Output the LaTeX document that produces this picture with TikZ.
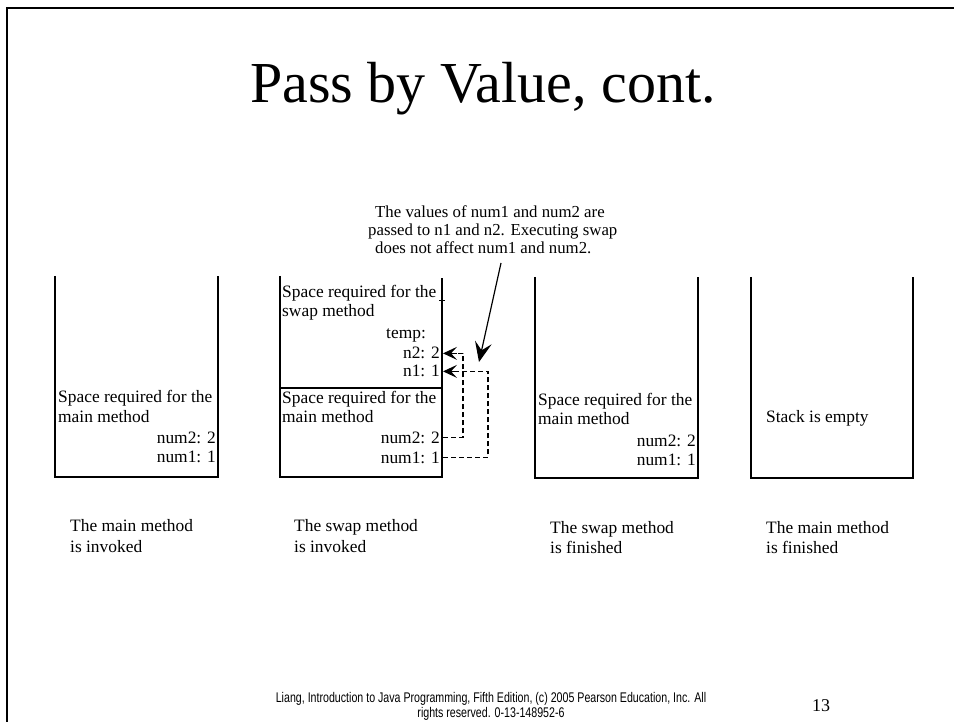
\documentclass[tikz,border=0pt]{standalone}
\usepackage{fontspec}
\usepackage{graphicx}
\setmainfont{Liberation Serif}
\newfontfamily\footfont{Liberation Sans}
\usetikzlibrary{arrows.meta}
\begin{document}
\begin{tikzpicture}[x=1pt,y=-1pt,
  txt/.style={inner sep=0pt, font=\fontsize{17.4}{19}\selectfont},
  ann/.style={inner sep=0pt, font=\fontsize{16.8}{18}\selectfont, anchor=base west},
  lw/.style={anchor=base west},
  re/.style={anchor=base east},
  boxline/.style={line width=1.4pt},
  dashline/.style={dash pattern=on 5pt off 3pt, line width=1.1pt},
  tipa/.style={line width=1.2pt,-{Stealth[length=14pt,width=13pt,inset=6pt]}},
  tipb/.style={line width=1.2pt,-{Stealth[length=20pt,width=17pt,inset=8pt]}}]
\useasboundingbox (0,0) rectangle (954,722);
% slide border
\draw[line width=2.5pt] (7,722) -- (7,8) -- (954,8);
% title
\node[inner sep=0pt, font=\fontsize{58}{60}\selectfont, anchor=base] (title) at (483,103) {Pass by Value, cont.};

% stacks
\draw[boxline] (55,276) -- (55,477) -- (218,477) -- (218,276);
\draw[boxline] (280,276) -- (280,477) -- (442,477) -- (442,278);
\draw[boxline] (280,388) -- (442,388);
\draw[line width=0.9pt] (439,300) -- (445,300);
\draw[boxline] (535,277) -- (535,478) -- (698,478) -- (698,277);
\draw[boxline] (751,277) -- (751,478) -- (913,478) -- (913,277);

% box 1
\node[txt,lw] (b1a) at (58,402) {Space required for the};
\node[txt,lw] (b1b) at (58,422) {main method};
\node[txt,re] (b1c) at (216,443) {num2: 2};
\node[txt,re] (b1d) at (216,462) {num1: 1};

% box 2
\node[txt,lw] (b2a) at (282,298) {Space required for the};
\node[txt,lw] (b2b) at (282,317) {swap method};
\node[txt,lw] (b2t) at (386,338) {temp:};
\node[txt,re] (b2n2) at (440,359) {n2: 2};
\node[txt,re] (b2n1) at (440,377) {n1: 1};
\node[txt,lw] (b2c) at (282,403) {Space required for the};
\node[txt,lw] (b2d) at (282,422) {main method};
\node[txt,re] (b2m2) at (440,443) {num2: 2};
\node[txt,re] (b2m1) at (440,463) {num1: 1};

% box 3
\node[txt,lw] (b3a) at (538,405) {Space required for the};
\node[txt,lw] (b3b) at (538,424) {main method};
\node[txt,re] (b3c) at (696,446) {num2: 2};
\node[txt,re] (b3d) at (696,465) {num1: 1};

% box 4
\node[txt,lw] (b4a) at (766,422) {Stack is empty};

% captions
\node[txt,lw] (c1a) at (70,531) {The main method};
\node[txt,lw] (c1b) at (70,552) {is invoked};
\node[txt,lw] (c2a) at (294,531) {The swap method};
\node[txt,lw] (c2b) at (294,552) {is invoked};
\node[txt,lw] (c3a) at (550,533) {The swap method};
\node[txt,lw] (c3b) at (550,553) {is finished};
\node[txt,lw] (c4a) at (766,533) {The main method};
\node[txt,lw] (c4b) at (766,553) {is finished};

% annotation
\node[ann] (an1) at (375,218) {The values of num1 and num2 are};
\node[ann] (an2) at (368,236) {passed to n1 and n2. Executing swap};
\node[ann] (an3) at (375,254) {does not affect num1 and num2.};
\coordinate (as) at (501,263);
\coordinate (at) at (479,362);
\draw[tipb] (as) -- (at);

% dashed connectors
\coordinate (e2) at ([xshift=3pt]b2n2.east);
\coordinate (e1) at ([xshift=3pt]b2n1.east);
\coordinate (s2) at ([xshift=3pt]b2m2.east);
\coordinate (s1) at ([xshift=3pt]b2m1.east);
\draw[dashline] (s2) -- ++(20,0) coordinate (k2) |- ([xshift=12pt]e2);
\draw[dashline] (s1) -- ++(45,0) coordinate (k1) |- ([xshift=12pt]e1);
\draw[tipa] ([xshift=14pt]e2) -- (e2);
\draw[tipa] ([xshift=14pt]e1) -- (e1);

% footer
\node[inner sep=0pt, anchor=base, font=\footfont\fontsize{14}{16}\selectfont] (f1) at (491,702) {\scalebox{0.76}[1]{Liang, Introduction to Java Programming, Fifth Edition, (c) 2005 Pearson Education, Inc. All}};
\node[inner sep=0pt, anchor=base, font=\footfont\fontsize{14}{16}\selectfont] (f2) at (491,717) {\scalebox{0.76}[1]{rights reserved. 0-13-148952-6}};
\node[inner sep=0pt, anchor=base, font=\fontsize{18}{20}\selectfont] (pg) at (821,711) {13};
\end{tikzpicture}
\end{document}
